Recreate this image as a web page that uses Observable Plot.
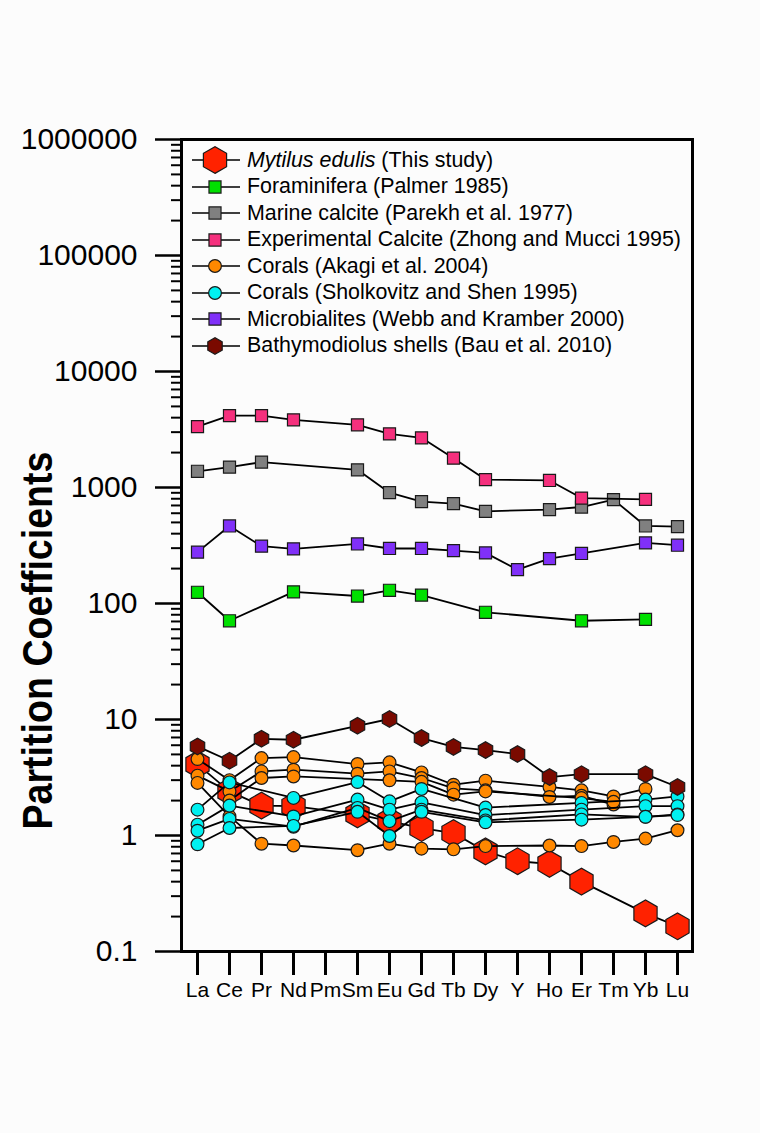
<!DOCTYPE html>
<html><head><meta charset="utf-8">
<script src="https://cdn.jsdelivr.net/npm/d3@7"></script>
<script src="https://cdn.jsdelivr.net/npm/@observablehq/plot@0.6"></script>
<style>
html,body{margin:0;padding:0;background:#fcfcfc;}
#wrap{position:relative;width:760px;height:1133px;}
#legend{position:absolute;left:190px;top:147px;font-family:"Liberation Sans",Arial,sans-serif;font-size:21.4px;color:#000;}
.row{height:26.5px;display:flex;align-items:center;white-space:nowrap;}
.row svg{width:57px;height:26px;flex:none;overflow:visible;}
svg [aria-label="y-axis tick label"]{font-size:30px;}
svg [aria-label="x-axis tick label"]{font-size:21px;}
</style></head>
<body><div id="wrap"><div id="legend"></div></div>
<script>
// ---- data ----
const elements = ["La","Ce","Pr","Nd","Pm","Sm","Eu","Gd","Tb","Dy","Y","Ho","Er","Tm","Yb","Lu"];
const seriesNames = [
  "Mytilus edulis (This study)",
  "Foraminifera (Palmer 1985)",
  "Marine calcite (Parekh et al. 1977)",
  "Experimental Calcite (Zhong and Mucci 1995)",
  "Corals (Akagi et al. 2004)",
  "Corals (Sholkovitz and Shen 1995)",
  "Microbialites (Webb and Kramber 2000)",
  "Bathymodiolus shells (Bau et al. 2010)"
];
const mytilus      = [4.1, 2.4, 1.81, 1.79, null, 1.52, 1.33, 1.16, 1.05, 0.73, 0.60, 0.57, 0.40, null, 0.213, 0.165];
const foraminifera = [125, 71, null, 126, null, 116, 130, 118, null, 84, null, null, 71, null, 73, null];
const marineCalcite= [1380, 1500, 1655, null, null, 1420, 902, 755, 726, 623, null, 645, 679, 786, 466, 460];
const expCalcite   = [3350, 4170, 4170, 3830, null, 3470, 2900, 2680, 1790, 1170, null, 1150, 811, null, 790, null];
const akagi1       = [4.56, 3.0, 4.65, 4.74, null, 4.13, 4.27, 3.5, 2.74, 2.97, null, 2.62, 2.45, 2.17, 2.52, null];
const akagi2       = [3.28, 2.4, 3.57, 3.69, null, 3.41, 3.57, 3.13, 2.55, 2.45, null, 2.15, 2.2, 1.85, null, null];
const akagi3       = [null, 2.0, 3.13, 3.23, null, null, 2.99, 2.9, 2.25, 2.4, null, null, 2.1, 1.95, null, null];
const akagi4       = [2.84, 1.46, 0.85, 0.82, null, 0.747, 0.85, 0.77, 0.76, 0.81, null, 0.82, 0.81, 0.88, 0.94, 1.11];
const sholkovitz1  = [1.67, 2.87, null, 2.11, null, 2.89, 1.97, 2.52, null, 1.74, null, null, 1.91, null, 2.04, 2.17];
const sholkovitz2  = [1.24, 1.81, null, 1.46, null, 2.04, 1.67, 1.93, null, 1.5, null, null, 1.67, null, 1.79, 1.79];
const sholkovitz3  = [1.10, 1.39, null, 1.19, null, 1.73, 1.33, 1.67, null, 1.35, null, null, 1.52, null, 1.45, 1.52];
const sholkovitz4  = [0.84, 1.16, null, 1.21, null, 1.6, 0.99, 1.6, null, 1.3, null, null, 1.37, null, 1.45, 1.5];
const microbialites= [277, 466, 312, 296, null, 326, 298, 298, 286, 273, 196, 244, 270, null, 333, 318];
const bathymodiolus= [5.86, 4.41, 6.82, 6.69, null, 8.83, 10.1, 6.92, 5.8, 5.45, 5.04, 3.19, 3.38, null, 3.38, 2.62];
const majorTicks = [0.1, 1, 10, 100, 1000, 10000, 100000, 1000000];

// ---- styles (separate from data) ----
const styles = {
  [seriesNames[0]]: {symbol: "hexagon", r: 11.6, fill: "#ff2200"},
  [seriesNames[1]]: {symbol: "square", r: 6.8, fill: "#00e000"},
  [seriesNames[2]]: {symbol: "square", r: 6.8, fill: "#808080"},
  [seriesNames[3]]: {symbol: "square", r: 6.8, fill: "#f5307d"},
  [seriesNames[4]]: {symbol: "circle", r: 6.4, fill: "#ff8800"},
  [seriesNames[5]]: {symbol: "circle", r: 6.4, fill: "#00f0f0"},
  [seriesNames[6]]: {symbol: "square", r: 6.8, fill: "#8030f8"},
  [seriesNames[7]]: {symbol: "hexagon", r: 7.2, fill: "#7a0a00"}
};

// draw order, each as [legend series, values]
const lines = [
  [seriesNames[0], mytilus],
  [seriesNames[1], foraminifera],
  [seriesNames[2], marineCalcite],
  [seriesNames[3], expCalcite],
  [seriesNames[4], akagi1],
  [seriesNames[4], akagi2],
  [seriesNames[4], akagi3],
  [seriesNames[4], akagi4],
  [seriesNames[5], sholkovitz1],
  [seriesNames[5], sholkovitz2],
  [seriesNames[5], sholkovitz3],
  [seriesNames[5], sholkovitz4],
  [seriesNames[6], microbialites],
  [seriesNames[7], bathymodiolus]
];

const minorTicks = [];
for (let k = -1; k < 6; k++) for (let m = 2; m <= 9; m++) minorTicks.push(m * Math.pow(10, k));

const marks = [];
for (const [name, vals] of lines) {
  const rows = elements.map((e, i) => ({element: e, value: vals[i]})).filter(d => d.value != null);
  const st = styles[name];
  marks.push(Plot.line(rows, {x: "element", y: "value", stroke: "#000", strokeWidth: 1.8}));
  marks.push(Plot.dot(rows, {x: "element", y: "value", symbol: st.symbol, r: st.r, fill: st.fill, stroke: "#1a1a1a", strokeWidth: 1.2}));
}

const chart = Plot.plot({
  width: 760, height: 1133,
  marginLeft: 181, marginRight: 68, marginTop: 139, marginBottom: 182,
  style: {fontFamily: "'Liberation Sans', Arial, sans-serif", background: "transparent", color: "#000"},
  x: {type: "point", domain: elements, padding: 0.4, axis: null},
  y: {type: "log", domain: [0.1, 1000000], axis: null},
  marks: [
    ...marks,
    Plot.axisY(minorTicks, {tickSize: 10, tickFormat: () => "", strokeWidth: 2, label: null}),
    Plot.axisY(majorTicks, {tickSize: 26, tickPadding: 18, strokeWidth: 2.5, fontSize: 30, label: null,
      tickFormat: d => d < 1 ? "0.1" : String(d)}),
    Plot.axisX(elements, {tickSize: 24, tickPadding: 7, strokeWidth: 3, fontSize: 21, label: null}),
    Plot.frame({stroke: "#000", strokeWidth: 3}),
    Plot.text(["Partition Coefficients"], {text: d => d, frameAnchor: "left", rotate: -90, dx: -143, dy: 95,
      fontSize: 42, fontWeight: "bold", textAnchor: "middle", lineAnchor: "middle"})
  ]
});
document.getElementById("wrap").prepend(chart);
chart.style.display = "block";
for (const t of chart.querySelectorAll("text")) {
  if (t.textContent === "Partition Coefficients") {
    t.setAttribute("textLength", "378");
    t.setAttribute("lengthAdjust", "spacingAndGlyphs");
  }
}

// ---- legend (HTML overlay) ----
const legend = document.getElementById("legend");
function symbolPath(sym, r) {
  if (sym === "hexagon") {
    const ry = r * 1.1547, hy = ry / 2;
    return `M0,${ry}L${r},${hy}L${r},${-hy}L0,${-ry}L${-r},${-hy}L${-r},${hy}Z`;
  }
  return d3.symbol(sym === "square" ? d3.symbolSquare : d3.symbolCircle, Math.PI * r * r)();
}
for (const name of seriesNames) {
  const st = styles[name];
  const row = document.createElement("div");
  row.className = "row";
  row.innerHTML = `<svg viewBox="0 0 57 26"><line x1="2" x2="50" y1="13" y2="13" stroke="#000" stroke-width="1.7"/>` +
    `<path transform="translate(25,13)" d="${symbolPath(st.symbol, st.r)}" fill="${st.fill}" stroke="#1a1a1a" stroke-width="1.2"/></svg>`;
  const span = document.createElement("span");
  if (name.startsWith("Mytilus edulis")) {
    span.innerHTML = "<i>Mytilus edulis</i>" + name.slice("Mytilus edulis".length);
  } else span.textContent = name;
  row.appendChild(span);
  legend.appendChild(row);
}
</script>
</body></html>
